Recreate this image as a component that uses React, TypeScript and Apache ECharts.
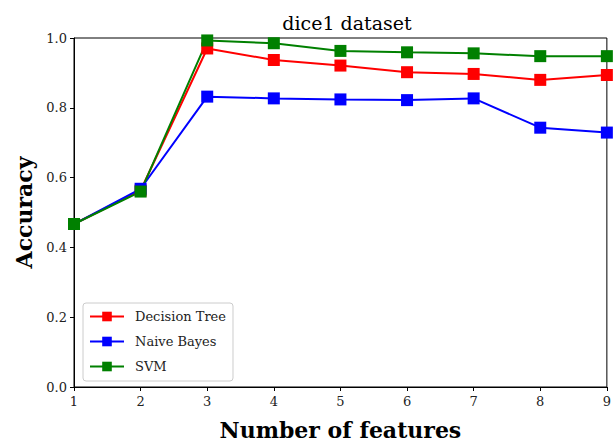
import React, { useEffect, useRef } from "react";
import * as echarts from "echarts";

const features = [1, 2, 3, 4, 5, 6, 7, 8, 9];
const decisionTree = [0.467, 0.563, 0.970, 0.937, 0.921, 0.902, 0.897, 0.880, 0.894];
const naiveBayes = [0.467, 0.568, 0.832, 0.827, 0.824, 0.822, 0.827, 0.743, 0.729];
const svm = [0.467, 0.560, 0.993, 0.985, 0.963, 0.959, 0.956, 0.948, 0.948];
const yTicks = [0, 0.2, 0.4, 0.6, 0.8, 1.0];

const FONT = "DejaVu Serif";

export default function App() {
  const ref = useRef<HTMLDivElement>(null);
  useEffect(() => {
    if (!ref.current) return;
    const chart = echarts.init(ref.current, null, { renderer: "svg" });
    const mk = (name: string, data: number[], color: string) => ({
      name,
      type: "line",
      data: features.map((f, i) => [f, data[i]]),
      symbol: "rect",
      symbolSize: 12,
      lineStyle: { color, width: 2 },
      itemStyle: { color },
      clip: false,
    });
    chart.setOption({
      animation: false,
      textStyle: { fontFamily: FONT },
      title: {
        text: "dice1 dataset",
        left: 342,
        textAlign: "center",
        top: 8,
        textStyle: { fontFamily: FONT, fontSize: 19, fontWeight: "normal", color: "#000" },
      },
      grid: {
        left: 74,
        right: 3,
        top: 38,
        bottom: 59,
        show: true,
        borderColor: "#000",
        borderWidth: 1,
        containLabel: false,
      },
      legend: {
        left: 83,
        top: 303,
        orient: "vertical",
        itemWidth: 34,
        itemHeight: 12,
        itemGap: 12,
        padding: [7, 7, 8, 6],
        borderColor: "#ccc",
        borderWidth: 1,
        borderRadius: 3,
        backgroundColor: "rgba(255,255,255,0.8)",
        textStyle: { fontFamily: FONT, fontSize: 13, color: "#222", padding: [0, 0, 0, 6] },
        data: ["Decision Tree", "Naive Bayes", "SVM"],
      },
      xAxis: {
        type: "value",
        min: 1,
        max: 9,
        interval: 1,
        name: "Number of features",
        nameLocation: "middle",
        nameGap: 32,
        nameTextStyle: { fontFamily: FONT, fontSize: 22, fontWeight: "bold", color: "#000" },
        axisLine: { lineStyle: { color: "#000" } },
        axisTick: { show: true, length: 4, lineStyle: { color: "#000" } },
        axisLabel: { fontFamily: FONT, fontSize: 13, color: "#222", margin: 8 },
        splitLine: { show: false },
      },
      yAxis: {
        type: "value",
        min: 0,
        max: 1,
        interval: 0.2,
        name: "Accuracy",
        nameLocation: "middle",
        nameGap: 31,
        nameTextStyle: { fontFamily: FONT, fontSize: 22, fontWeight: "bold", color: "#000" },
        axisLine: { show: true, lineStyle: { color: "#000" } },
        axisTick: { show: true, length: 4, lineStyle: { color: "#000" } },
        axisLabel: {
          fontFamily: FONT,
          fontSize: 13,
          color: "#222",
          margin: 7,
          formatter: (v: number) => {
            const t = yTicks.find((y) => Math.abs(y - v) < 1e-6);
            return (t ?? v).toFixed(1);
          },
        },
        splitLine: { show: false },
      },
      series: [
        mk("Decision Tree", decisionTree, "#ff0000"),
        mk("Naive Bayes", naiveBayes, "#0000ff"),
        mk("SVM", svm, "#008000"),
      ],
    });
    return () => chart.dispose();
  }, []);
  return <div ref={ref} style={{ width: 614, height: 446, position: "absolute", left: 0, top: 0, background: "#fff" }} />;
}
